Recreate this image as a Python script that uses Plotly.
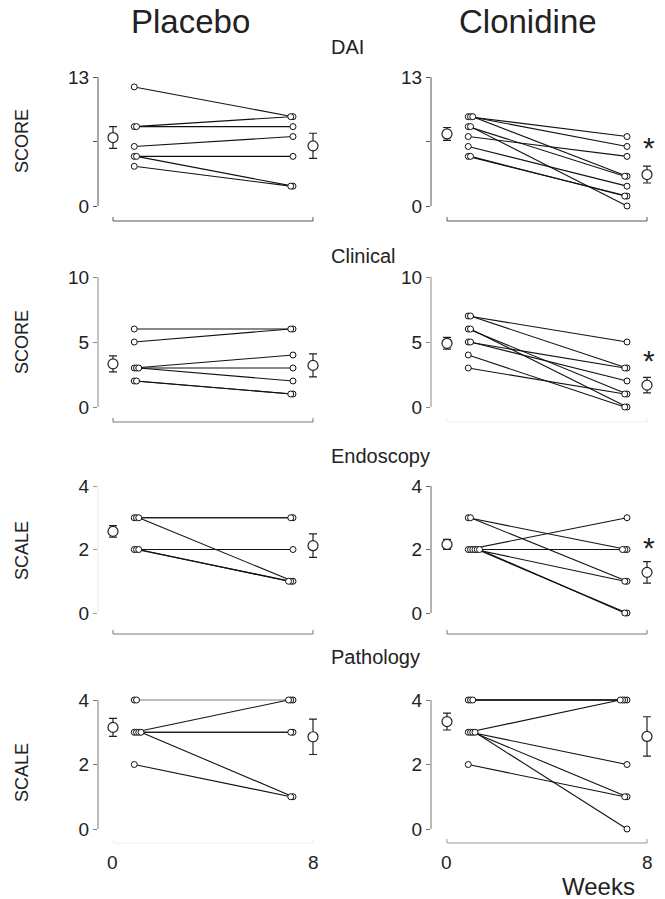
import plotly.graph_objects as go

W, H = 665, 899
FONT = "Liberation Sans, Arial, Helvetica, sans-serif"

# ---------------- data ----------------
groups = ["Placebo", "Clonidine"]
measures = ["DAI", "Clinical", "Endoscopy", "Pathology"]
y_titles = ["SCORE", "SCORE", "SCALE", "SCALE"]
week_ticks = [0, 8]
week_ticktext = ["0", "8"]

y_max = [13, 10, 4, 4]
y_tickvals = [[0, 6.5, 13], [0, 5, 10], [0, 2, 4], [0, 2, 4]]
y_ticktext = [["0", "", "13"], ["0", "5", "10"], ["0", "2", "4"], ["0", "2", "4"]]

# individual subjects: week 0 and week 8
placebo_dai_w0 = [12, 8, 8, 6, 5, 5, 4]
placebo_dai_w8 = [9, 9, 8, 7, 5, 2, 2]
placebo_clin_w0 = [6, 5, 3, 3, 3, 2, 2]
placebo_clin_w8 = [6, 6, 4, 3, 2, 1, 1]
placebo_endo_w0 = [3, 3, 3, 2, 2, 2]
placebo_endo_w8 = [3, 3, 1, 2, 1, 1]
placebo_path_w0 = [4, 4, 3, 3, 3, 3, 2]
placebo_path_w8 = [4, 4, 4, 3, 3, 1, 1]

clon_dai_w0 = [9, 9, 9, 8, 8, 7, 6, 5, 5]
clon_dai_w8 = [7, 6, 3, 3, 0, 5, 2, 1, 1]
clon_clin_w0 = [7, 7, 6, 6, 5, 5, 4, 3]
clon_clin_w8 = [5, 3, 1, 0, 3, 2, 0, 1]
clon_endo_w0 = [3, 3, 2, 2, 2, 2, 2, 2]
clon_endo_w8 = [2, 1, 3, 2, 2, 1, 0, 0]
clon_path_w0 = [4, 4, 4, 3, 3, 3, 3, 2]
clon_path_w8 = [4, 4, 4, 4, 2, 1, 0, 1]

# group means and SEM (DAI, Clinical, Endoscopy, Pathology)
placebo_mean_w0 = [6.9, 3.32, 2.57, 3.15]
placebo_sem_w0 = [1.1, 0.62, 0.18, 0.28]
placebo_mean_w8 = [6.06, 3.2, 2.12, 2.86]
placebo_sem_w8 = [1.27, 0.88, 0.37, 0.55]
clon_mean_w0 = [7.26, 4.9, 2.16, 3.33]
clon_sem_w0 = [0.65, 0.45, 0.16, 0.26]
clon_mean_w8 = [3.17, 1.68, 1.28, 2.87]
clon_sem_w8 = [0.85, 0.6, 0.34, 0.61]

significant = [[False, False, False, False], [True, True, True, False]]

subjects = [
    [(placebo_dai_w0, placebo_dai_w8), (placebo_clin_w0, placebo_clin_w8),
     (placebo_endo_w0, placebo_endo_w8), (placebo_path_w0, placebo_path_w8)],
    [(clon_dai_w0, clon_dai_w8), (clon_clin_w0, clon_clin_w8),
     (clon_endo_w0, clon_endo_w8), (clon_path_w0, clon_path_w8)],
]
means = [
    (placebo_mean_w0, placebo_sem_w0, placebo_mean_w8, placebo_sem_w8),
    (clon_mean_w0, clon_sem_w0, clon_mean_w8, clon_sem_w8),
]

# ---------------- layout geometry (pixels) ----------------
rows_px = [
    dict(hi=77, lo=206, bottom=221, top=62),
    dict(hi=277, lo=407, bottom=422, top=262),
    dict(hi=486, lo=613, bottom=634, top=470),
    dict(hi=700, lo=829, bottom=843, top=684),
]
cols_px = [
    dict(axis=98, x0=113, x8=313, right=335),
    dict(axis=431, x0=447, x8=647, right=663),
]
# axis colours per panel [col][row]
yline_col = [["#555", "#888", "#e6e6e6", "#777"], ["#555", "#888", "#666", "#777"]]
ytick_col = [["#555", "#888", "#999", "#777"], ["#555", "#888", "#666", "#777"]]
xline_col = [["#555", "#777", "#777", "#eeeeee"], ["#555", "#eeeeee", "#777", "#999"]]
star_shift = [27, 25, 25, 0]
faint_lines = {(0, 3): 2}   # first subjects of placebo pathology drawn in grey

X_PRE, X_POST, JIT = 0.85, 7.2, 0.09

fig = go.Figure()
layout = dict(
    width=W, height=H, margin=dict(l=0, r=0, t=0, b=0),
    paper_bgcolor="white", plot_bgcolor="white", showlegend=False,
    font=dict(family=FONT, color="#222"),
)
shapes, annotations = [], []

for c in range(2):
    cp = cols_px[c]
    xu = 8.0 / (cp["x8"] - cp["x0"])
    for r in range(4):
        rp = rows_px[r]
        n = r * 2 + c + 1
        xa = "x" if n == 1 else f"x{n}"
        ya = "y" if n == 1 else f"y{n}"
        xkey = "xaxis" if n == 1 else f"xaxis{n}"
        ykey = "yaxis" if n == 1 else f"yaxis{n}"
        yu = y_max[r] / (rp["lo"] - rp["hi"])

        layout[xkey] = dict(
            domain=[cp["axis"] / W, cp["right"] / W],
            range=[(cp["axis"] - cp["x0"]) * xu, (cp["right"] - cp["x0"]) * xu],
            anchor=ya, showgrid=False, zeroline=False, showline=False,
            showticklabels=False, ticks="",
        )
        layout[ykey] = dict(
            domain=[1 - rp["bottom"] / H, 1 - rp["top"] / H],
            range=[-(rp["bottom"] - rp["lo"]) * yu, y_max[r] + (rp["hi"] - rp["top"]) * yu],
            anchor=xa, showgrid=False, zeroline=False, showline=False,
            tickvals=y_tickvals[r], ticktext=y_ticktext[r],
            ticks="outside", ticklen=4, tickcolor=ytick_col[c][r], tickwidth=1,
            tickfont=dict(size=19, color="#222"),
        )
        # y axis line from 0 to max
        shapes.append(dict(type="line", xref=f"{xa} domain", yref=ya, x0=0, x1=0,
                           y0=0, y1=y_max[r], line=dict(color=yline_col[c][r], width=1)))
        # bottom weeks line from 0 to 8
        shapes.append(dict(type="line", xref=xa, yref=f"{ya} domain", x0=week_ticks[0],
                           x1=week_ticks[1], y0=0, y1=0,
                           line=dict(color=xline_col[c][r], width=1)))
        for xv in week_ticks:
            shapes.append(dict(type="line", xref=xa, yref=f"{ya} domain", x0=xv, x1=xv,
                               y0=0, y1=0.025, line=dict(color=xline_col[c][r], width=1)))
        if r == 3:
            for xv, tt in zip(week_ticks, week_ticktext):
                annotations.append(dict(xref=xa, yref="paper", x=xv, y=1 - 862 / H, text=tt,
                                        showarrow=False, xanchor="center", yanchor="middle",
                                        font=dict(size=19, color="#222")))

        # subjects
        w0, w8 = subjects[c][r]
        seen0, seen8 = {}, {}
        xs0, xs8 = [], []
        for a, b in zip(w0, w8):
            k0 = seen0.get(a, 0); seen0[a] = k0 + 1
            k8 = seen8.get(b, 0); seen8[b] = k8 + 1
            xs0.append(X_PRE + JIT * k0)
            xs8.append(X_POST - JIT * k8)
        lx, ly = [], []
        for i in range(len(w0)):
            lx += [xs0[i], xs8[i], None]
            ly += [w0[i], w8[i], None]
        nf = faint_lines.get((c, r), 0)
        if nf:
            fig.add_trace(go.Scatter(x=lx[:3 * nf], y=ly[:3 * nf], mode="lines", xaxis=xa,
                                     yaxis=ya, line=dict(color="#aaaaaa", width=1.1),
                                     hoverinfo="skip"))
            lx, ly = lx[3 * nf:], ly[3 * nf:]
        fig.add_trace(go.Scatter(x=lx, y=ly, mode="lines", xaxis=xa, yaxis=ya,
                                 line=dict(color="#111", width=1.1), hoverinfo="skip"))
        fig.add_trace(go.Scatter(x=xs0 + xs8, y=list(w0) + list(w8), mode="markers",
                                 xaxis=xa, yaxis=ya, cliponaxis=False,
                                 marker=dict(size=6, color="white",
                                             line=dict(color="#111", width=1))))
        # means
        m0, s0, m8, s8 = means[c]
        fig.add_trace(go.Scatter(x=week_ticks, y=[m0[r], m8[r]], mode="markers",
                                 xaxis=xa, yaxis=ya, cliponaxis=False,
                                 error_y=dict(type="data", array=[s0[r], s8[r]], color="#222",
                                              thickness=1.2, width=4),
                                 marker=dict(size=10, color="white",
                                             line=dict(color="#222", width=1.2))))
        if significant[c][r]:
            annotations.append(dict(xref=xa, yref=ya, x=week_ticks[1], y=m8[r],
                                    text="*", showarrow=False, yshift=star_shift[r],
                                    xshift=2,
                                    font=dict(size=30, color="#222", family=FONT)))

# group titles
annotations.append(dict(xref="paper", yref="paper", x=190 / W, y=1 - 22 / H, text=groups[0],
                        showarrow=False, xanchor="center", yanchor="middle",
                        font=dict(size=33, color="#222")))
annotations.append(dict(xref="paper", yref="paper", x=528 / W, y=1 - 22 / H, text=groups[1],
                        showarrow=False, xanchor="center", yanchor="middle",
                        font=dict(size=33, color="#222")))
# measure titles
meas_y = [47, 256, 456, 657]
for r in range(4):
    annotations.append(dict(xref="paper", yref="paper", x=329 / W, y=1 - meas_y[r] / H,
                            text=measures[r], showarrow=False, xanchor="left", yanchor="middle",
                            font=dict(size=20, color="#222")))
# y titles
ytitle_y = [141, 342, 550, 772]
for r in range(4):
    annotations.append(dict(xref="paper", yref="paper", x=22 / W, y=1 - ytitle_y[r] / H,
                            text=y_titles[r], showarrow=False, textangle=-90,
                            xanchor="center", yanchor="middle",
                            font=dict(size=18, color="#222")))
annotations.append(dict(xref="paper", yref="paper", x=598 / W, y=1 - 886 / H, text="Weeks",
                        showarrow=False, xanchor="center", yanchor="middle",
                        font=dict(size=24, color="#222")))

layout["shapes"] = shapes
layout["annotations"] = annotations
fig.update_layout(**layout)
fig.write_html("out.html", config={"displayModeBar": False},
               post_script="document.body.style.margin='0';document.body.style.overflow='hidden';")
